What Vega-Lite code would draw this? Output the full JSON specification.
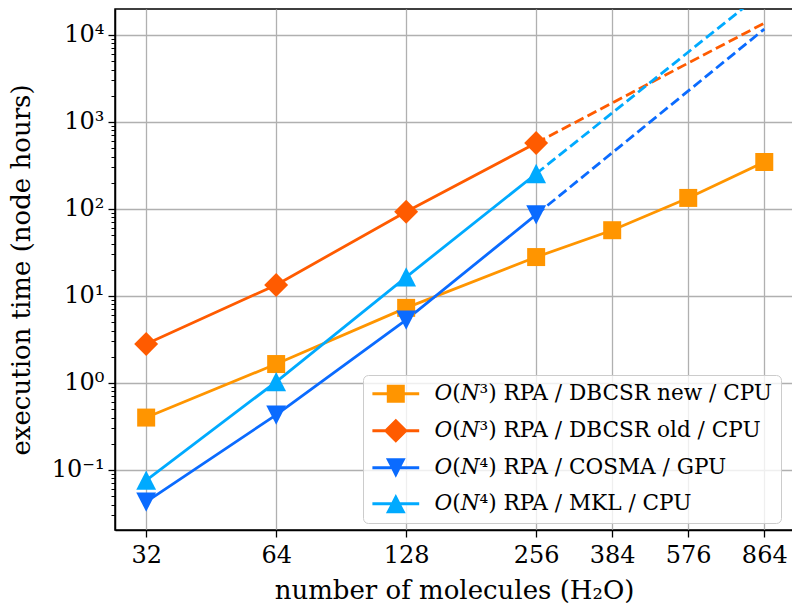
{
  "$schema": "https://vega.github.io/schema/vega-lite/v6.json",
  "width": 678,
  "height": 521,
  "autosize": {"type": "none"},
  "padding": {"left": 115, "top": 9, "right": 0, "bottom": 80},
  "config": {
    "font": "DejaVu Serif",
    "view": {"stroke": "black", "strokeWidth": 1.5},
    "axis": {
      "labelFont": "DejaVu Serif",
      "titleFont": "DejaVu Serif",
      "labelColor": "black",
      "titleColor": "black",
      "titleFontWeight": "normal",
      "domainColor": "black",
      "domainWidth": 1.5,
      "tickColor": "black",
      "gridColor": "#b0b0b0",
      "gridWidth": 1.3
    }
  },
  "data": {
    "values": [
      {"method": "𝑂(𝑁³) RPA / DBCSR new / CPU", "n": 32, "t": 0.40, "part": "m"},
      {"method": "𝑂(𝑁³) RPA / DBCSR new / CPU", "n": 64, "t": 1.65, "part": "m"},
      {"method": "𝑂(𝑁³) RPA / DBCSR new / CPU", "n": 128, "t": 7.3, "part": "m"},
      {"method": "𝑂(𝑁³) RPA / DBCSR new / CPU", "n": 256, "t": 28, "part": "m"},
      {"method": "𝑂(𝑁³) RPA / DBCSR new / CPU", "n": 384, "t": 57, "part": "m"},
      {"method": "𝑂(𝑁³) RPA / DBCSR new / CPU", "n": 576, "t": 134, "part": "m"},
      {"method": "𝑂(𝑁³) RPA / DBCSR new / CPU", "n": 864, "t": 347, "part": "m"},
      {"method": "𝑂(𝑁³) RPA / DBCSR old / CPU", "n": 32, "t": 2.81, "part": "m"},
      {"method": "𝑂(𝑁³) RPA / DBCSR old / CPU", "n": 64, "t": 13.4, "part": "m"},
      {"method": "𝑂(𝑁³) RPA / DBCSR old / CPU", "n": 128, "t": 93, "part": "m"},
      {"method": "𝑂(𝑁³) RPA / DBCSR old / CPU", "n": 256, "t": 574, "part": "m"},
      {"method": "𝑂(𝑁⁴) RPA / COSMA / GPU", "n": 32, "t": 0.043, "part": "m"},
      {"method": "𝑂(𝑁⁴) RPA / COSMA / GPU", "n": 64, "t": 0.43, "part": "m"},
      {"method": "𝑂(𝑁⁴) RPA / COSMA / GPU", "n": 128, "t": 5.3, "part": "m"},
      {"method": "𝑂(𝑁⁴) RPA / COSMA / GPU", "n": 256, "t": 86, "part": "m"},
      {"method": "𝑂(𝑁⁴) RPA / MKL / CPU", "n": 32, "t": 0.076, "part": "m"},
      {"method": "𝑂(𝑁⁴) RPA / MKL / CPU", "n": 64, "t": 1.03, "part": "m"},
      {"method": "𝑂(𝑁⁴) RPA / MKL / CPU", "n": 128, "t": 16.5, "part": "m"},
      {"method": "𝑂(𝑁⁴) RPA / MKL / CPU", "n": 256, "t": 254, "part": "m"},
      {"method": "𝑂(𝑁³) RPA / DBCSR old / CPU", "n": 256, "t": 574, "part": "e"},
      {"method": "𝑂(𝑁³) RPA / DBCSR old / CPU", "n": 864, "t": 13700, "part": "e"},
      {"method": "𝑂(𝑁⁴) RPA / COSMA / GPU", "n": 256, "t": 86, "part": "e"},
      {"method": "𝑂(𝑁⁴) RPA / COSMA / GPU", "n": 864, "t": 11700, "part": "e"},
      {"method": "𝑂(𝑁⁴) RPA / MKL / CPU", "n": 256, "t": 254, "part": "e"},
      {"method": "𝑂(𝑁⁴) RPA / MKL / CPU", "n": 864, "t": 31800, "part": "e"}
    ]
  },
  "layer": [
    {
      "encoding": {
        "x": {
          "field": "n", "type": "quantitative",
          "scale": {"type": "log", "base": 2, "domain": [27.1, 1007], "nice": false},
          "axis": {
            "values": [32, 64, 128, 256, 384, 576, 864],
            "title": "number of molecules (H₂O)",
            "labelFontSize": 24, "titleFontSize": 26,
            "tickSize": 7, "tickWidth": 1.3,
            "labelPadding": 6, "titlePadding": 10,
            "labelFlush": false, "labelOverlap": false
          }
        },
        "y": {
          "field": "t", "type": "quantitative",
          "scale": {"type": "log", "domain": [0.0204, 19900], "nice": false},
          "axis": {
            "values": [0.1, 1, 10, 100, 1000, 10000],
            "labelExpr": "datum.value < 0.5 ? '10⁻¹' : datum.value < 5 ? '10⁰' : datum.value < 50 ? '10¹' : datum.value < 500 ? '10²' : datum.value < 5000 ? '10³' : '10⁴'",
            "title": "execution time (node hours)",
            "labelFontSize": 24, "titleFontSize": 26,
            "tickSize": 7, "tickWidth": 1.3,
            "labelPadding": 4, "titlePadding": 17,
            "labelOverlap": false
          }
        },
        "color": {
          "field": "method", "type": "nominal",
          "scale": {
            "domain": ["𝑂(𝑁³) RPA / DBCSR new / CPU", "𝑂(𝑁³) RPA / DBCSR old / CPU", "𝑂(𝑁⁴) RPA / COSMA / GPU", "𝑂(𝑁⁴) RPA / MKL / CPU"],
            "range": ["#FF9500", "#FF5B00", "#0A6BFF", "#00AAFF"]
          },
          "legend": {
            "title": null,
            "orient": "none",
            "legendX": 248,
            "legendY": 366,
            "fillColor": "rgba(255,255,255,0.8)",
            "strokeColor": "#cccccc",
            "cornerRadius": 5,
            "padding": 8,
            "symbolSize": 324,
            "symbolOffset": 14,
            "symbolStrokeWidth": 0,
            "labelOffset": 28,
            "labelFont": "DejaVu Serif",
            "labelFontSize": 21.6,
            "labelColor": "black",
            "labelLimit": 500,
            "rowPadding": 13,
            "symbolType": "square",
            "encode": {
              "symbols": {
                "update": {
                  "fill": {"scale": "color", "field": "value"},
                  "strokeWidth": {"value": 0},
                  "opacity": {"value": 1},
                  "shape": {"signal": "datum.index == 0 ? 'M-2.6,-0.16H-1V-1H1V-0.16H2.6V0.16H1V1H-1V0.16H-2.6Z' : datum.index == 1 ? 'M-2.6,-0.16H-1.17L0,-1.33L1.17,-0.16H2.6V0.16H1.17L0,1.33L-1.17,0.16H-2.6Z' : datum.index == 2 ? 'M-2.6,-0.16H-0.63L-1.1,-1.05H1.1L0.63,-0.16H2.6V0.16H0.47L0,1.1L-0.47,0.16H-2.6Z' : 'M-2.6,0.16H-0.63L-1.1,1.05H1.1L0.63,0.16H2.6V-0.16H0.47L0,-1.1L-0.47,-0.16H-2.6Z'"}
                }
              }
            }
          }
        }
      },
      "layer": [
        {
          "transform": [{"filter": {"field": "part", "equal": "m"}}],
          "mark": {"type": "line", "strokeWidth": 2.8, "clip": true},
          "encoding": {"detail": {"field": "method"}}
        },
        {
          "transform": [{"filter": {"field": "part", "equal": "e"}}],
          "mark": {"type": "line", "strokeWidth": 2.8, "strokeDash": [10, 4.5], "clip": true},
          "encoding": {"detail": {"field": "method"}}
        },
        {
          "transform": [{"filter": {"and": [{"field": "part", "equal": "m"}, {"field": "method", "equal": "𝑂(𝑁³) RPA / DBCSR new / CPU"}]}}],
          "mark": {"type": "point", "filled": true, "opacity": 1, "size": 324, "strokeWidth": 0, "shape": "M-1,-1H1V1H-1Z"}
        },
        {
          "transform": [{"filter": {"and": [{"field": "part", "equal": "m"}, {"field": "method", "equal": "𝑂(𝑁³) RPA / DBCSR old / CPU"}]}}],
          "mark": {"type": "point", "filled": true, "opacity": 1, "size": 324, "strokeWidth": 0, "shape": "M0,-1.33L1.33,0L0,1.33L-1.33,0Z"}
        },
        {
          "transform": [{"filter": {"and": [{"field": "part", "equal": "m"}, {"field": "method", "equal": "𝑂(𝑁⁴) RPA / COSMA / GPU"}]}}],
          "mark": {"type": "point", "filled": true, "opacity": 1, "size": 324, "strokeWidth": 0, "shape": "M-1.1,-1.05H1.1L0,1.1Z"}
        },
        {
          "transform": [{"filter": {"and": [{"field": "part", "equal": "m"}, {"field": "method", "equal": "𝑂(𝑁⁴) RPA / MKL / CPU"}]}}],
          "mark": {"type": "point", "filled": true, "opacity": 1, "size": 324, "strokeWidth": 0, "shape": "M0,-1.1L1.1,1.05H-1.1Z"}
        }
      ]
    },
    {
      "mark": {"type": "point", "opacity": 0},
      "encoding": {
        "y": {
          "field": "t", "type": "quantitative",
          "axis": {
            "orient": "left",
            "values": [0.03, 0.04, 0.05, 0.06, 0.07, 0.08, 0.09, 0.2, 0.3, 0.4, 0.5, 0.6, 0.7, 0.8, 0.9, 2, 3, 4, 5, 6, 7, 8, 9, 20, 30, 40, 50, 60, 70, 80, 90, 200, 300, 400, 500, 600, 700, 800, 900, 2000, 3000, 4000, 5000, 6000, 7000, 8000, 9000],
            "labels": false, "domain": false, "grid": false, "title": null,
            "tickSize": 4, "tickWidth": 1
          }
        }
      }
    }
  ],
  "resolve": {"axis": {"y": "independent"}}
}
